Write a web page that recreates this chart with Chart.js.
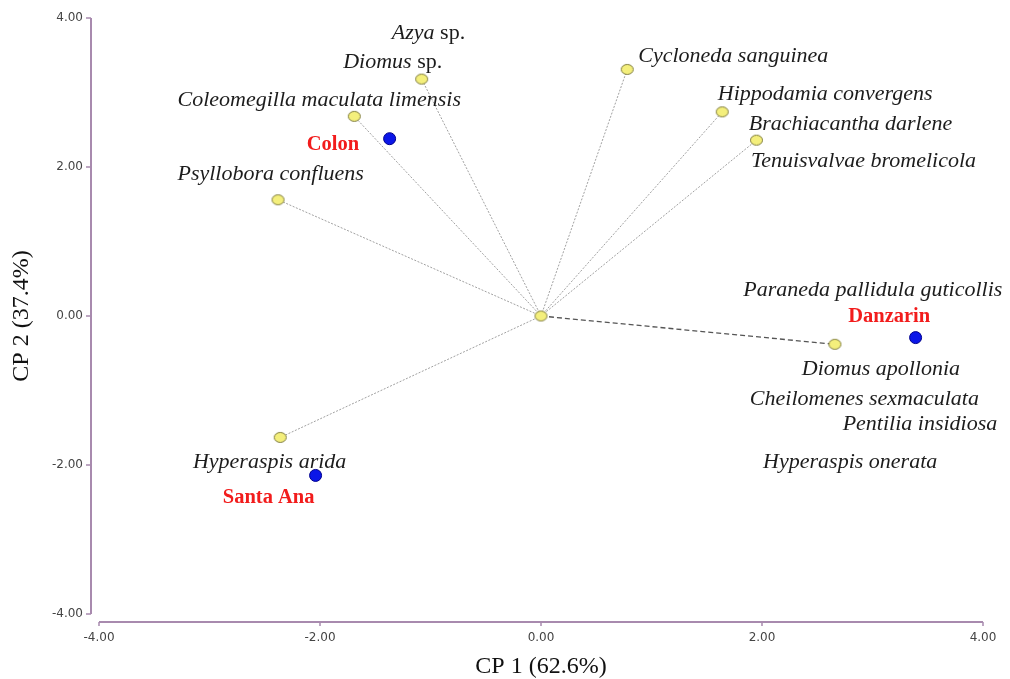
<!DOCTYPE html>
<html>
<head>
<meta charset="utf-8">
<script src="https://cdn.jsdelivr.net/npm/chart.js@4.4.0/dist/chart.umd.min.js"></script>
<style>
  body { margin: 0; background: #fff; }
</style>
</head>
<body>
<canvas id="myChart" width="1010" height="679"></canvas>
<script>
// ===== data =====

// species vectors (CP1, CP2)
const speciesNames = [
  "origin",
  "Azya sp. / Diomus sp.",
  "Coleomegilla maculata limensis",
  "Psyllobora confluens",
  "Cycloneda sanguinea",
  "Hippodamia convergens",
  "Brachiacantha darlene / Tenuisvalvae bromelicola",
  "Hyperaspis arida",
  "Diomus apollonia group",
];
const speciesCP1 = [0, -1.08, -1.69, -2.38, 0.78, 1.64, 1.95, -2.36, 2.66];
const speciesCP2 = [0, 3.18, 2.68, 1.56, 3.31, 2.74, 2.36, -1.63, -0.38];

// localities
const siteNames = ["Colon", "Danzarin", "Santa Ana"];
const siteCP1 = [-1.37, 3.39, -2.04];
const siteCP2 = [2.38, -0.29, -2.14];

// ticks
const tickValues = [-4, -2, 0, 2, 4];

// text labels: parts [text, italic], anchor (left, middle) in CP units
const labelText = [
  [["Azya", true], [" sp.", false]],
  [["Diomus", true], [" sp.", false]],
  [["Coleomegilla maculata limensis", true]],
  [["Psyllobora confluens", true]],
  [["Cycloneda sanguinea", true]],
  [["Hippodamia convergens", true]],
  [["Brachiacantha darlene", true]],
  [["Tenuisvalvae bromelicola", true]],
  [["Paraneda pallidula guticollis", true]],
  [["Diomus apollonia", true]],
  [["Cheilomenes sexmaculata", true]],
  [["Pentilia insidiosa", true]],
  [["Hyperaspis onerata", true]],
  [["Hyperaspis arida", true]],
];
const labelX = [-1.35, -1.79, -3.29, -3.29, 0.88, 1.60, 1.88, 1.90, 1.83, 2.36, 1.89, 2.73, 2.01, -3.15];
const labelY = [3.82, 3.43, 2.92, 1.93, 3.51, 3.01, 2.60, 2.10, 0.37, -0.69, -1.09, -1.43, -1.94, -1.93];

const siteLabelX = [-2.12, 2.78, -2.88];
const siteLabelY = [2.32, 0.02, -2.41];

// ====================================

// yellow ellipse marker
const ell = document.createElement("canvas");
ell.width = 15;
ell.height = 13;
const ectx = ell.getContext("2d");
ectx.beginPath();
ectx.ellipse(7.5, 6.5, 6, 5, 0, 0, Math.PI * 2);
ectx.fillStyle = "#f4ef7c";
ectx.fill();
ectx.lineWidth = 1;
ectx.strokeStyle = "#7d7a3c";
ectx.stroke();

let speciesPts = [];
for (let i = 0; i < speciesCP1.length; i++) {
  speciesPts.push({ x: speciesCP1[i], y: speciesCP2[i] });
}
let sitePts = [];
for (let i = 0; i < siteCP1.length; i++) {
  sitePts.push({ x: siteCP1[i], y: siteCP2[i] });
}

let datasets = [
  {
    type: "scatter",
    label: "species",
    data: speciesPts,
    pointStyle: ell,
    order: 0,
  },
  {
    type: "scatter",
    label: "sites",
    data: sitePts,
    pointStyle: "circle",
    pointRadius: 6,
    backgroundColor: "#0b16e8",
    borderColor: "#00008c",
    borderWidth: 1,
    order: 0,
  },
];

// vectors from origin
for (let i = 1; i < speciesPts.length; i++) {
  const last = i === speciesPts.length - 1;
  datasets.push({
    type: "line",
    label: speciesNames[i],
    data: [{ x: 0, y: 0 }, speciesPts[i]],
    borderColor: last ? "#555555" : "#a0a0a0",
    borderWidth: last ? 1.3 : 1,
    borderDash: last ? [5, 3] : [2, 1.5],
    pointRadius: 0,
    fill: false,
    order: 1,
  });
}

const axisColor = "#a88aae";

const extras = {
  id: "extras",
  beforeDatasetsDraw(chart) {
    const ctx = chart.ctx;
    const xs = chart.scales.x;
    const ys = chart.scales.y;
    const ax = chart.chartArea.left - 8;
    const ay = chart.chartArea.bottom + 8;
    ctx.save();
    ctx.strokeStyle = axisColor;
    ctx.lineWidth = 2;
    ctx.beginPath();
    ctx.moveTo(ax, ys.getPixelForValue(4));
    ctx.lineTo(ax, ys.getPixelForValue(-4));
    ctx.moveTo(xs.getPixelForValue(-4), ay);
    ctx.lineTo(xs.getPixelForValue(4), ay);
    ctx.stroke();
    ctx.lineWidth = 1.5;
    ctx.beginPath();
    tickValues.forEach((v) => {
      const py = ys.getPixelForValue(v);
      ctx.moveTo(ax - 5, py);
      ctx.lineTo(ax, py);
      const px = xs.getPixelForValue(v);
      ctx.moveTo(px, ay);
      ctx.lineTo(px, ay + 4);
    });
    ctx.stroke();
    ctx.restore();
  },
  afterDatasetsDraw(chart) {
    const ctx = chart.ctx;
    const xs = chart.scales.x;
    const ys = chart.scales.y;
    ctx.save();
    ctx.textBaseline = "middle";
    ctx.textAlign = "left";
    ctx.fillStyle = "#1c1c1c";
    for (let i = 0; i < labelText.length; i++) {
      let px = xs.getPixelForValue(labelX[i]);
      const py = ys.getPixelForValue(labelY[i]) + 2;
      labelText[i].forEach((part) => {
        ctx.font = (part[1] ? "italic " : "") + "22px 'Liberation Serif'";
        ctx.fillText(part[0], px, py);
        px += ctx.measureText(part[0]).width;
      });
    }
    ctx.fillStyle = "#f21c1c";
    ctx.font = "bold 20.5px 'Liberation Serif'";
    for (let i = 0; i < siteNames.length; i++) {
      ctx.fillText(siteNames[i], xs.getPixelForValue(siteLabelX[i]), ys.getPixelForValue(siteLabelY[i]) + 2);
    }
    ctx.restore();
  },
};

const tickFont = { family: "'DejaVu Sans'", size: 12 };

new Chart(document.getElementById("myChart").getContext("2d"), {
  type: "scatter",
  data: { datasets: datasets },
  options: {
    responsive: false,
    animation: false,
    layout: { padding: { left: 0, top: 18, right: 27, bottom: 0 } },
    plugins: {
      legend: { display: false },
      tooltip: { enabled: false },
    },
    scales: {
      x: {
        type: "linear",
        min: -4,
        max: 4,
        afterFit: (scale) => {
          scale.height = 65;
          scale.paddingLeft = 0;
          scale.paddingRight = 0;
        },
        afterBuildTicks: (scale) => { scale.ticks = tickValues.map((v) => ({ value: v })); },
        grid: { display: false, drawTicks: false },
        border: { display: false },
        ticks: {
          padding: 17,
          color: "#444",
          font: tickFont,
          callback: (v) => v.toFixed(2),
        },
        title: {
          display: true,
          text: "CP 1 (62.6%)",
          color: "#111",
          font: { family: "'Liberation Serif'", size: 24, lineHeight: 1 },
          padding: { top: 0, bottom: 0 },
        },
      },
      y: {
        type: "linear",
        min: -4,
        max: 4,
        afterFit: (scale) => {
          scale.width = 99;
          scale.paddingTop = 0;
          scale.paddingBottom = 0;
        },
        afterBuildTicks: (scale) => { scale.ticks = tickValues.map((v) => ({ value: v })); },
        grid: { display: false, drawTicks: false },
        border: { display: false },
        ticks: {
          padding: 16,
          color: "#444",
          font: tickFont,
          callback: (v) => v.toFixed(2),
        },
        title: {
          display: true,
          text: "CP 2 (37.4%)",
          color: "#111",
          font: { family: "'Liberation Serif'", size: 24, lineHeight: 1 },
          padding: { top: 10, bottom: 0 },
        },
      },
    },
  },
  plugins: [extras],
});
</script>
</body>
</html>
